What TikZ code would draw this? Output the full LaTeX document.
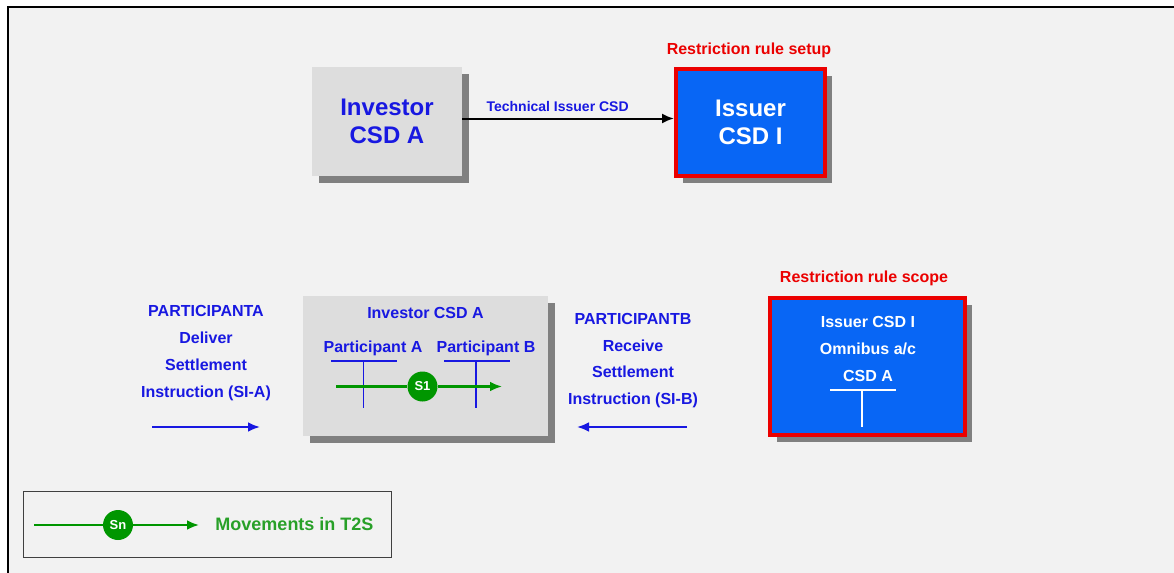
\documentclass[tikz,border=0pt]{standalone}
\usepackage{fontspec}
\setmainfont{Liberation Sans}
\usetikzlibrary{positioning,shadows,arrows.meta}

\definecolor{panelgray}{RGB}{242,242,242}
\definecolor{boxgray}{RGB}{221,221,221}
\definecolor{shadegray}{RGB}{128,128,128}
\definecolor{csdblue}{RGB}{8,102,245}
\definecolor{textblue}{RGB}{24,24,225}
\definecolor{rulered}{RGB}{235,0,0}
\definecolor{moveg}{RGB}{0,150,0}
\definecolor{movetext}{RGB}{40,160,40}
\definecolor{legendline}{RGB}{64,64,64}

\tikzset{
  csdbox/.style={rectangle, inner sep=0pt, align=center,
    drop shadow={shadow xshift=3.5pt, shadow yshift=-3.5pt, fill=shadegray, opacity=1}},
  investorbox/.style={csdbox, fill=boxgray, text=textblue},
  issuerbox/.style={csdbox, fill=csdblue, draw=rulered, line width=2pt, text=white},
  bigtext/.style={font=\bfseries\fontsize{12}{14}\selectfont},
  smalltext/.style={font=\bfseries\fontsize{8}{13.4}\selectfont, align=center, inner sep=0pt},
  bluetext/.style={smalltext, text=textblue},
  ruletext/.style={smalltext, text=rulered},
  movedot/.style={circle, fill=moveg, text=white, minimum size=15pt, inner sep=0pt,
    font=\bfseries\fontsize{6.5}{7}\selectfont},
  move/.style={moveg, line width=1.2pt},
  movearrow/.style={move, -{Latex[length=6pt,width=5pt]}},
  siarrow/.style={textblue, line width=1.2pt, -{Latex[length=6pt,width=5pt]}},
  tline/.style={line width=0.9pt}
}

\begin{document}
\begin{tikzpicture}[x=0.5pt, y=-0.5pt]
  \useasboundingbox (0,0) rectangle (1174,573);
  % slide background
  \fill[white] (0,0) rectangle (1174,573);
  \fill[panelgray] (8,7) rectangle (1174,573);
  \draw[line width=0.8pt] (8,573) -- (8,7) -- (1174,7);

  % top row
  \node[investorbox, bigtext, minimum width=75pt, minimum height=54.5pt] (invtop) at (387,121.5) {Investor\\CSD A};
  \node[issuerbox, bigtext, minimum width=74.5pt, minimum height=53.5pt] (isstop) at (750.5,122.5) {Issuer\\CSD I};
  \node[ruletext] (setup) at (749,50) {Restriction rule setup};
  \draw[line width=1pt, -{Latex[length=6pt,width=5pt]}]
    ([yshift=1.5pt]invtop.east) -- ([yshift=1.5pt]invtop.east -| isstop.west)
    node[bluetext, font=\bfseries\fontsize{7}{8}\selectfont, pos=0.45, above=3pt] (techlbl) {Technical Issuer CSD};

  % participant A instruction
  \node[bluetext] (siA) at (206,353) {PARTICIPANTA\\Deliver\\Settlement\\Instruction (SI-A)};
  \coordinate (siAtail) at (152,427);
  \coordinate (siAhead) at (260,427);
  \draw[siarrow] (siAtail) -- (siAhead);

  % investor CSD with the two accounts
  \node[investorbox, minimum width=122.5pt, minimum height=70pt] (invmid) at (425.5,366) {};
  \node[bluetext] (invmidlbl) at (425.5,313) {Investor CSD A};
  \node[bluetext] (partA) at (373,348) {Participant A};
  \node[bluetext] (partB) at (486,348) {Participant B};
  \draw[tline, textblue] (331,361) -- (397,361);
  \draw[tline, textblue] (363.5,361) -- (363.5,408);
  \draw[tline, textblue] (444,361) -- (510,361);
  \draw[tline, textblue] (476,361) -- (476,408);
  \coordinate (s1start) at (336,386.5);
  \coordinate (s1end) at (502,386.5);
  \node[movedot] (s1) at (422.5,386.5) {S1};
  \draw[move] (s1start) -- (s1);
  \draw[movearrow] (s1) -- (s1end);

  % participant B instruction
  \node[bluetext] (siB) at (633,360.5) {PARTICIPANTB\\Receive\\Settlement\\Instruction (SI-B)};
  \coordinate (siBtail) at (687,427);
  \coordinate (siBhead) at (577,427);
  \draw[siarrow] (siBtail) -- (siBhead);

  % omnibus account at the issuer CSD
  \node[ruletext] (scope) at (864,278) {Restriction rule scope};
  \node[issuerbox, minimum width=97.5pt, minimum height=68.5pt] (omni) at (867.5,366.5) {};
  \node[smalltext, text=white, font=\bfseries\fontsize{8}{13.6}\selectfont] (omnilbl) at (868,349) {Issuer CSD I\\Omnibus a/c\\CSD A};
  \draw[tline, white] (830,390) -- (896,390);
  \draw[tline, white] (862,390) -- (862,427);

  % legend
  \node[draw=legendline, line width=0.8pt, fill=panelgray, minimum width=184pt, minimum height=33pt, inner sep=0pt] (legend) at (207.5,524.5) {};
  \coordinate (lgstart) at (34,525);
  \coordinate (lgend) at (199,525);
  \node[movedot] (sn) at (118,525) {Sn};
  \draw[move] (lgstart) -- (sn);
  \draw[movearrow] (sn) -- (lgend);
  \node[smalltext, text=movetext, font=\bfseries\fontsize{9}{10}\selectfont] (lgtext) at (294.5,524) {Movements in T2S};
\end{tikzpicture}
\end{document}
